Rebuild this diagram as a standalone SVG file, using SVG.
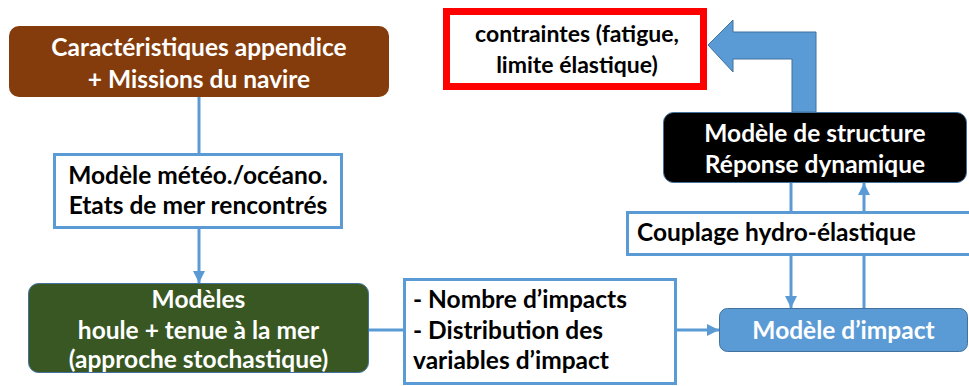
<svg xmlns="http://www.w3.org/2000/svg" width="969" height="386" viewBox="0 0 969 386">
<defs>
<style>
.t{font-family:Lato,"Open Sans","Liberation Sans",sans-serif;font-weight:bold;font-size:24.5px}
.s{font-size:23px}
.w{fill:#ffffff}
.k{fill:#000000}
.m{text-anchor:middle}
.ln{stroke:#5B9BD5;stroke-width:3;fill:none}
.bx{fill:#ffffff;stroke:#5B9BD5;stroke-width:3}
</style>
<marker id="ah" viewBox="0 0 10 10" refX="10" refY="5" markerWidth="4" markerHeight="4" orient="auto" markerUnits="strokeWidth">
<path d="M0,0 L10,5 L0,10 Z" fill="#5B9BD5"/>
</marker>
</defs>
<rect width="969" height="386" fill="#ffffff"/>
<g id="connectors">
<line class="ln" x1="199" y1="97" x2="199" y2="153"/>
<line class="ln" x1="199" y1="229" x2="199" y2="283" marker-end="url(#ah)"/>
<line class="ln" x1="369" y1="330" x2="403" y2="330"/>
<line class="ln" x1="677" y1="330" x2="719" y2="330" marker-end="url(#ah)"/>
<line class="ln" x1="791" y1="183" x2="791" y2="212"/>
<line class="ln" x1="791" y1="255" x2="791" y2="308" marker-end="url(#ah)"/>
<line class="ln" x1="864" y1="308" x2="864" y2="255"/>
<line class="ln" x1="864" y1="212" x2="864" y2="183" marker-end="url(#ah)"/>
<polygon points="708,45 733,20 733,32 816,32 816,112 792,112 792,59 733,59 733,72" fill="#5B9BD5" stroke="#41719C" stroke-width="1"/>
</g>
<g id="n-caracteristiques">
<rect x="9" y="26" width="380" height="71" rx="10" fill="#843C0C"/>
<text class="t w m" x="199" y="56">Caractéristiques appendice</text>
<text class="t w m" x="199" y="88">+ Missions du navire</text>
</g>
<g id="n-meteo">
<rect class="bx" x="54.5" y="154.5" width="287" height="73"/>
<text class="t k m" x="198" y="184">Modèle météo./océano.</text>
<text class="t k m" x="198" y="214">Etats de mer rencontrés</text>
</g>
<g id="n-houle">
<rect x="28.5" y="283.5" width="340" height="89" rx="10" fill="#385723" stroke="#41719C" stroke-width="1"/>
<text class="t w m" x="198.5" y="308">Modèles</text>
<text class="t w m" x="198.5" y="339">houle + tenue à la mer</text>
<text class="t w m" x="198.5" y="368">(approche stochastique)</text>
</g>
<g id="n-impacts-list">
<rect class="bx" x="404.5" y="279.5" width="271" height="104"/>
<text class="t k" x="413" y="308">- Nombre d’impacts</text>
<text class="t k" x="413" y="339">- Distribution des</text>
<text class="t k" x="413" y="369">variables d’impact</text>
</g>
<g id="n-impact">
<rect x="719.5" y="308.5" width="248" height="43" rx="8" fill="#5B9BD5" stroke="#41719C" stroke-width="1"/>
<text class="t w m" x="843.5" y="339">Modèle d’impact</text>
</g>
<g id="n-couplage">
<rect class="bx" x="627.5" y="212.5" width="345" height="42"/>
<text class="t k" x="637" y="241">Couplage hydro-élastique</text>
</g>
<g id="n-structure">
<rect x="663.5" y="112.5" width="303" height="70" rx="10" fill="#000000" stroke="#41719C" stroke-width="1"/>
<text class="t w m" x="815" y="142">Modèle de structure</text>
<text class="t w m" x="815" y="173">Réponse dynamique</text>
</g>
<g id="n-contraintes">
<rect x="446.5" y="11.5" width="257" height="75" fill="#ffffff" stroke="#FF0000" stroke-width="7"/>
<text class="t s k m" x="577" y="42">contraintes (fatigue,</text>
<text class="t s k m" x="577" y="73">limite élastique)</text>
</g>
</svg>
